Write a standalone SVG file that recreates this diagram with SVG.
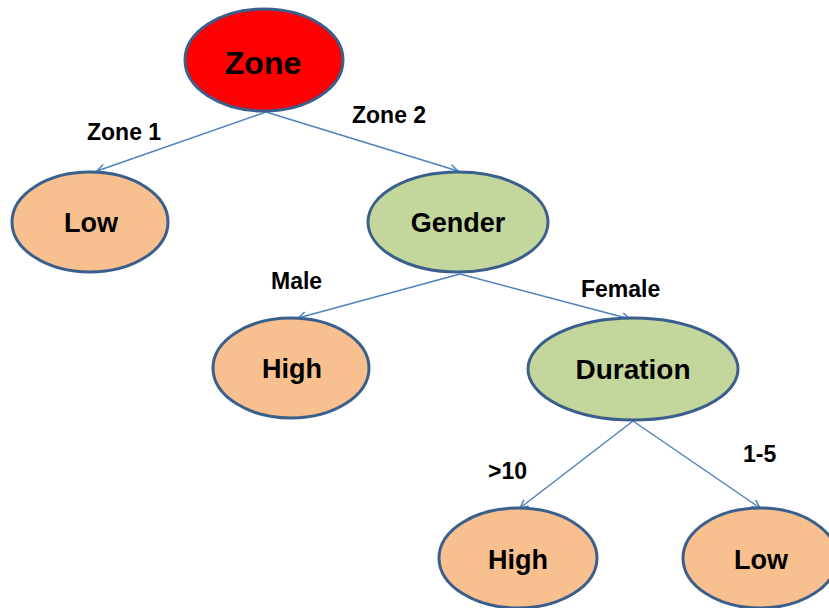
<svg xmlns="http://www.w3.org/2000/svg" width="829" height="608" viewBox="0 0 829 608">
<defs>
<style>
.node{stroke:#3A5F8C;stroke-width:3}
.red{fill:#FF0000}
.leaf{fill:#F8BF8F}
.green{fill:#C3D69B}
.nl{font-family:"Liberation Sans",Arial,sans-serif;font-weight:bold;font-size:27px;fill:#000;text-anchor:middle}
.el{font-family:"Liberation Sans",Arial,sans-serif;font-weight:bold;font-size:23px;fill:#000}
.edge{stroke:#4F81BD;stroke-width:1.5;fill:none;marker-end:url(#arr)}
</style>
<marker id="arr" viewBox="0 0 10 10" refX="9" refY="5" markerWidth="10" markerHeight="10" markerUnits="userSpaceOnUse" orient="auto">
<path d="M1,1 L9,5 L1,9" fill="none" stroke="#4F81BD" stroke-width="1.5"/>
</marker>
</defs>
<rect width="829" height="608" fill="#fff"/>
<g id="connectors">
<line class="edge" x1="266" y1="112" x2="97" y2="171"/>
<line class="edge" x1="266" y1="112" x2="458" y2="171"/>
<line class="edge" x1="460" y1="274" x2="298" y2="318"/>
<line class="edge" x1="460" y1="274" x2="630" y2="319"/>
<line class="edge" x1="633" y1="421" x2="520" y2="508"/>
<line class="edge" x1="633" y1="421" x2="760" y2="508"/>
</g>
<g id="labels">
<text class="el" x="87" y="140">Zone 1</text>
<text class="el" x="352" y="123">Zone 2</text>
<text class="el" x="271" y="289">Male</text>
<text class="el" x="581" y="297">Female</text>
<text class="el" x="488" y="479">&gt;10</text>
<text class="el" x="743" y="462">1-5</text>
</g>
<g id="zone">
<ellipse class="node red" cx="264" cy="60" rx="79" ry="51"/>
<text class="nl" x="263" y="74" style="font-size:32px">Zone</text>
</g>
<g id="low1">
<ellipse class="node leaf" cx="90" cy="222" rx="78" ry="50"/>
<text class="nl" x="91" y="232">Low</text>
</g>
<g id="gender">
<ellipse class="node green" cx="458" cy="222" rx="90" ry="50"/>
<text class="nl" x="458" y="232">Gender</text>
</g>
<g id="high1">
<ellipse class="node leaf" cx="291" cy="368" rx="78" ry="50"/>
<text class="nl" x="292" y="378">High</text>
</g>
<g id="duration">
<ellipse class="node green" cx="633" cy="369" rx="105" ry="51"/>
<text class="nl" x="633" y="379" style="font-size:28px">Duration</text>
</g>
<g id="high2">
<ellipse class="node leaf" cx="518" cy="558" rx="79" ry="50"/>
<text class="nl" x="518" y="569">High</text>
</g>
<g id="low2">
<ellipse class="node leaf" cx="760" cy="558" rx="77" ry="50"/>
<text class="nl" x="761" y="569">Low</text>
</g>
</svg>
